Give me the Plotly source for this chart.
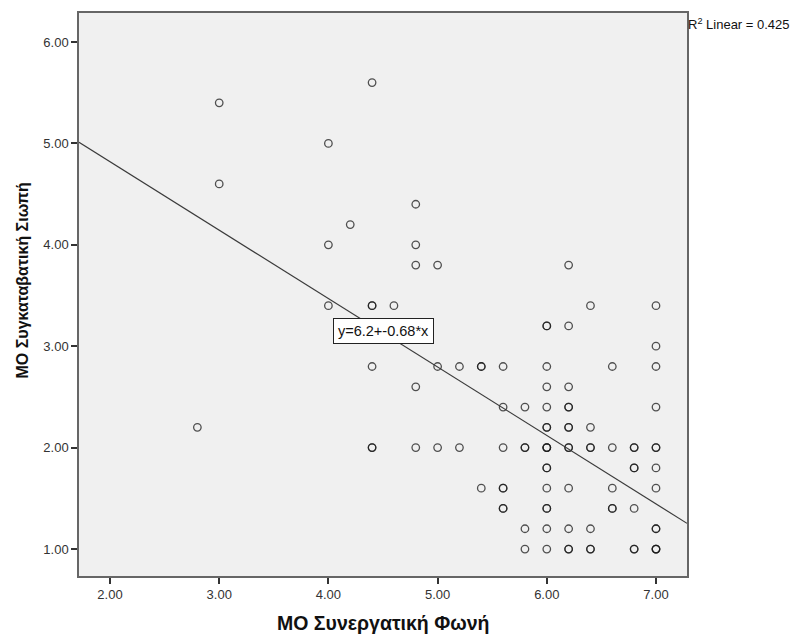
import plotly.graph_objects as go

# Data (x, y, number of overlapping cases)
x_vals = [3.0, 4.4, 4.0, 3.0, 4.8, 4.2, 4.0, 4.8, 4.8, 5.0, 6.2,
          4.0, 4.4, 4.6, 6.4, 7.0,
          6.0, 6.2,
          7.0,
          4.4, 5.0, 5.2, 5.4, 5.6, 6.0, 6.6, 7.0,
          4.8, 6.0, 6.2,
          5.6, 5.8, 6.0, 6.2, 7.0,
          2.8, 6.0, 6.2, 6.4,
          4.4, 4.8, 5.0, 5.2, 5.6, 5.8, 6.0, 6.2, 6.4, 6.6, 6.8, 7.0,
          6.0, 6.8, 7.0,
          5.4, 5.6, 6.0, 6.2, 6.6, 7.0,
          5.6, 6.0, 6.6, 6.8,
          5.8, 6.0, 6.2, 6.4, 7.0,
          5.8, 6.0, 6.2, 6.4, 6.8, 7.0]
y_vals = [5.4, 5.6, 5.0, 4.6, 4.4, 4.2, 4.0, 4.0, 3.8, 3.8, 3.8,
          3.4, 3.4, 3.4, 3.4, 3.4,
          3.2, 3.2,
          3.0,
          2.8, 2.8, 2.8, 2.8, 2.8, 2.8, 2.8, 2.8,
          2.6, 2.6, 2.6,
          2.4, 2.4, 2.4, 2.4, 2.4,
          2.2, 2.2, 2.2, 2.2,
          2.0, 2.0, 2.0, 2.0, 2.0, 2.0, 2.0, 2.0, 2.0, 2.0, 2.0, 2.0,
          1.8, 1.8, 1.8,
          1.6, 1.6, 1.6, 1.6, 1.6, 1.6,
          1.4, 1.4, 1.4, 1.4,
          1.2, 1.2, 1.2, 1.2, 1.2,
          1.0, 1.0, 1.0, 1.0, 1.0, 1.0]
counts = [1, 1, 1, 1, 1, 1, 1, 1, 1, 1, 1,
          1, 2, 1, 1, 1,
          2, 1,
          1,
          1, 1, 1, 2, 1, 1, 1, 1,
          1, 1, 1,
          1, 1, 1, 2, 1,
          1, 2, 2, 1,
          2, 1, 1, 1, 1, 2, 3, 2, 2, 1, 2, 2,
          2, 2, 1,
          1, 2, 1, 1, 1, 1,
          2, 2, 2, 1,
          1, 1, 1, 1, 2,
          1, 1, 2, 2, 2, 3]

intercept = 6.17
slope = -0.675
r2_text = "R<sup>2</sup> Linear = 0.425"
eq_text = "y=6.2+-0.68*x"

x_title = "ΜΟ Συνεργατική Φωνή"
y_title = "ΜΟ Συγκαταβατική Σιωπή"
x_ticks = [2, 3, 4, 5, 6, 7]
y_ticks = [1, 2, 3, 4, 5, 6]
x_range = [1.716, 7.284]
y_range = [0.734, 6.286]

# expand overlapping cases
px, py = [], []
for xv, yv, c in zip(x_vals, y_vals, counts):
    px += [xv] * c
    py += [yv] * c

fig = go.Figure()
fig.add_trace(go.Scatter(
    x=px, y=py, mode="markers",
    marker=dict(symbol="circle-open", size=7.5, color="rgba(25,25,25,0.75)",
                line=dict(width=1.3)),
    hoverinfo="skip", showlegend=False))

line_x = x_range
line_y = [intercept + slope * v for v in line_x]
fig.add_trace(go.Scatter(x=line_x, y=line_y, mode="lines",
                         line=dict(color="#3a3a3a", width=1.2),
                         hoverinfo="skip", showlegend=False))

font_fam = "Liberation Sans, Arial, sans-serif"
# the page body has an 8px margin, so the figure is 8px smaller than the window
fig.update_layout(
    width=790, height=626,
    margin=dict(l=71, r=111, t=5, b=58, autoexpand=False),
    paper_bgcolor="white", plot_bgcolor="#f0f0f0",
    font=dict(family=font_fam, size=12, color="#333"),
    xaxis=dict(range=x_range, tickvals=x_ticks,
               ticktext=[f"{v:.2f}" for v in x_ticks],
               showgrid=False, zeroline=False, automargin=False,
               showline=True, mirror=True, linecolor="#666", linewidth=1.5,
               ticks="outside", ticklen=6, tickcolor="#333", tickwidth=1.5,
               tickfont=dict(size=13, color="#333")),
    yaxis=dict(range=y_range, tickvals=y_ticks,
               ticktext=[f"{v:.2f}" for v in y_ticks],
               showgrid=False, zeroline=False, automargin=False,
               showline=True, mirror=True, linecolor="#666", linewidth=1.5,
               ticks="outside", ticklen=6, tickcolor="#333", tickwidth=1.5,
               tickfont=dict(size=13, color="#333")),
    annotations=[
        dict(text=f"<b>{x_title}</b>", xref="paper", yref="paper",
             x=0.5, y=0.0, xanchor="center", yanchor="middle", yshift=-47,
             showarrow=False, font=dict(size=19.5, color="#111")),
        dict(text=f"<b>{y_title}</b>", xref="paper", yref="paper",
             x=0.0, y=0.5, xanchor="center", yanchor="middle",
             xshift=-57, yshift=14, textangle=-90,
             showarrow=False, font=dict(size=16, color="#111")),
        dict(text=r2_text, xref="paper", yref="paper", x=1.0, y=1.0,
             xanchor="left", yanchor="top", showarrow=False,
             font=dict(size=13, color="#111"), xshift=-1, yshift=-1),
        dict(text=eq_text, xref="x", yref="y", x=4.5, y=3.15,
             showarrow=False, bgcolor="white", bordercolor="#222",
             borderwidth=1, borderpad=4, font=dict(size=14.5, color="#111")),
    ],
)

fig.write_html("out.html")
